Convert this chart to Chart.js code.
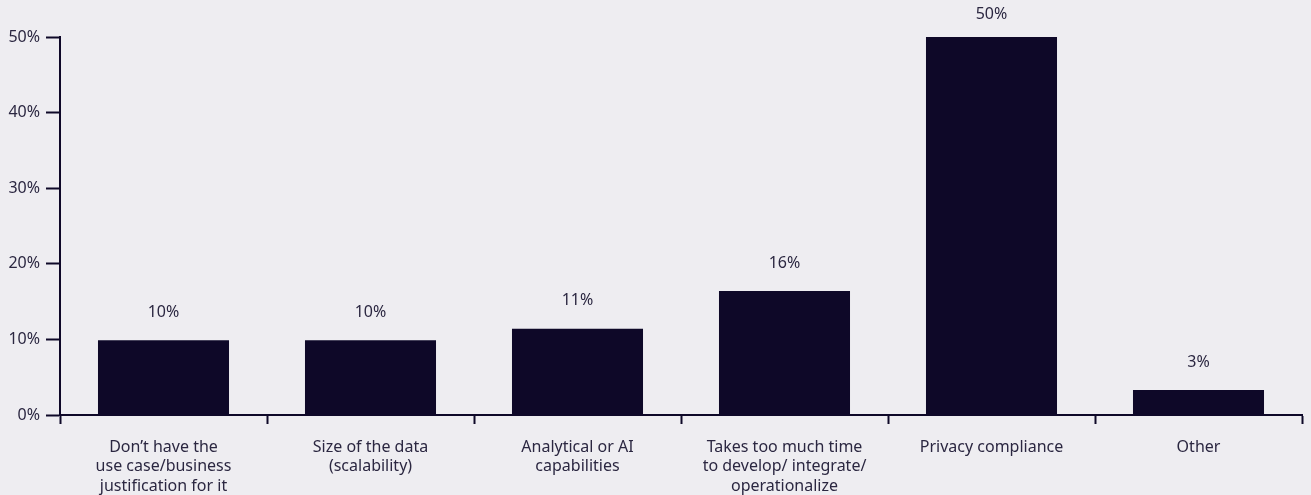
<!DOCTYPE html>
<html>
<head>
<meta charset="utf-8">
<script src="https://cdn.jsdelivr.net/npm/chart.js@4"></script>
<style>
  html, body { margin: 0; padding: 0; background: #eeedf1; }
  #wrap { width: 1311px; height: 495px; }
</style>
</head>
<body>
<div id="wrap"><canvas id="barChart"></canvas></div>
<script>
const categories = [
    ["Don\u2019t have the", "use case/business", "justification for it"],
    ["Size of the data", "(scalability)"],
    ["Analytical or AI", "capabilities"],
    ["Takes too much time", "to develop/ integrate/", "operationalize"],
    ["Privacy compliance"],
    ["Other"]
];
const shares = [9.9, 9.9, 11.4, 16.4, 50, 3.3];
const yTicks = [0, 10, 20, 30, 40, 50];

const ink = "#0e0828";
const textColor = "#2b2741";

// percentage labels above each bar
const valueLabels = {
    id: "valueLabels",
    afterDatasetsDraw(chart) {
        const ctx = chart.ctx;
        const meta = chart.getDatasetMeta(0);
        ctx.save();
        ctx.font = "16px 'Noto Sans'";
        ctx.fillStyle = textColor;
        ctx.textAlign = "center";
        ctx.textBaseline = "middle";
        meta.data.forEach((bar, i) => {
            const y = Math.max(bar.y - 28, 14);
            ctx.fillText(Math.round(shares[i]) + "%", bar.x, y);
        });
        ctx.restore();
    }
};

new Chart(document.getElementById("barChart"), {
    type: "bar",
    data: {
        labels: categories,
        datasets: [{
            data: shares,
            backgroundColor: ink,
            barPercentage: 0.633,
            categoryPercentage: 1
        }]
    },
    options: {
        responsive: true,
        maintainAspectRatio: false,
        animation: false,
        layout: { padding: { top: 37, right: 9, left: 0, bottom: 0 } },
        plugins: { legend: { display: false }, tooltip: { enabled: false } },
        scales: {
            x: {
                offset: true,
                afterFit: s => { s.height = 80; },
                border: { color: ink, width: 2 },
                grid: {
                    offset: true,
                    drawOnChartArea: false,
                    drawTicks: true,
                    tickLength: 9,
                    tickWidth: 2,
                    tickColor: ink
                },
                ticks: {
                    color: textColor,
                    font: { family: "'Noto Sans'", size: 16, lineHeight: 1.2 },
                    maxRotation: 0,
                    autoSkip: false,
                    padding: 14
                }
            },
            y: {
                min: 0,
                max: 50,
                afterFit: s => { s.width = 60; },
                afterBuildTicks: s => { s.ticks = yTicks.map(v => ({ value: v })); },
                border: { color: ink, width: 2 },
                grid: {
                    drawOnChartArea: false,
                    drawTicks: true,
                    tickLength: 14,
                    tickWidth: 2,
                    tickColor: ink
                },
                ticks: {
                    color: textColor,
                    font: { family: "'Noto Sans'", size: 16 },
                    padding: 6,
                    callback: v => v + "%"
                }
            }
        }
    },
    plugins: [valueLabels]
});
</script>
</body>
</html>
